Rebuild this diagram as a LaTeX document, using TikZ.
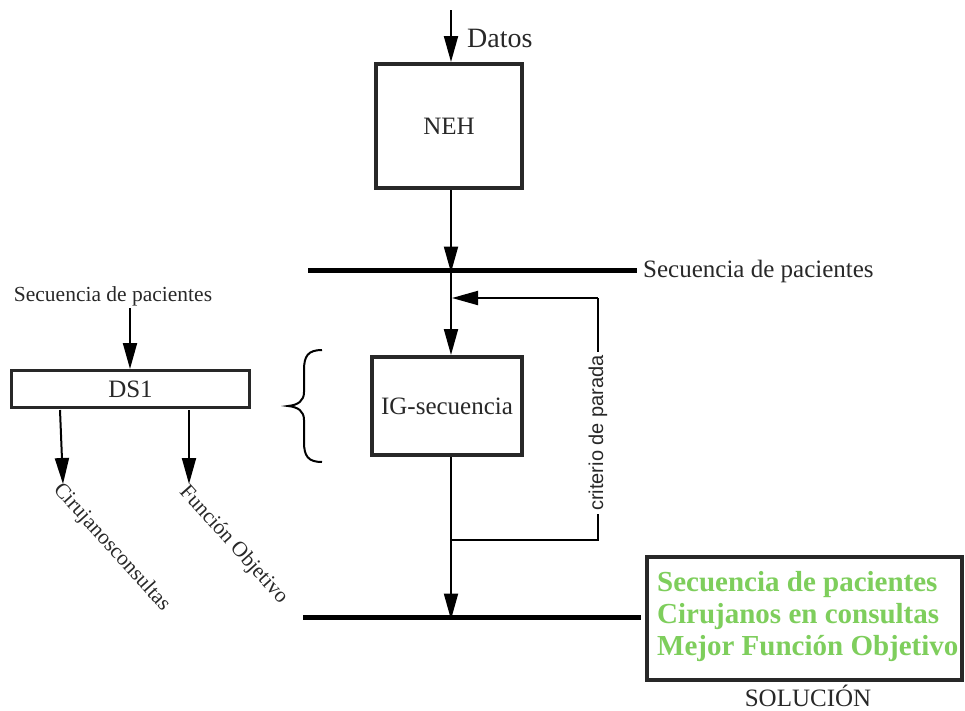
\documentclass[tikz,border=0pt]{standalone}
\usepackage{fontspec}
\setmainfont{Liberation Serif}
\newfontfamily\sansf{Liberation Sans}
\usetikzlibrary{arrows.meta}
\definecolor{ink}{RGB}{40,40,40}
\definecolor{solgreen}{RGB}{126,206,92}
\tikzset{
  box/.style={draw=ink, line width=4pt, fill=white, inner sep=0pt, font=\fontsize{25}{28}\selectfont, text=ink},
  arr/.style={draw=black, line width=2pt, -{Triangle[length=26pt,width=14pt]}},
  plain/.style={draw=black, line width=2pt},
  bar/.style={draw=black, line width=5pt},
  lbl/.style={text=ink, inner sep=0pt},
  slant/.style={text=ink, inner sep=0pt, rotate=-48, anchor=north west, font=\fontsize{21.5}{23}\selectfont},
  soltxt/.style={text=solgreen, inner sep=0pt, anchor=base west, font=\fontsize{29}{32}\selectfont\bfseries}
}
\begin{document}
\begin{tikzpicture}[x=1pt,y=-1pt]
\useasboundingbox (0,0) rectangle (965,710);

% main column
\coordinate (top) at (451,10);
\coordinate (main) at (451,0);

% NEH block
\node[box, minimum width=146pt, minimum height=124pt] (neh) at (449,126) {NEH};
\node[lbl, anchor=west, font=\fontsize{28}{30}\selectfont] (datos) at (467,38) {Datos};
\draw[arr] (top) -- (top |- neh.north);

% first sequence bar
\coordinate (b1l) at (308,270);
\coordinate (b1r) at (637,270);
\draw[bar] (b1l) -- (b1r);
\node[lbl, anchor=west, font=\fontsize{25}{28}\selectfont] (seq1) at (643,271) {Secuencia de pacientes};
\draw[arr] (neh.south -| main) -- ([yshift=-2.5pt]main |- b1l);

% IG-secuencia block
\node[box, minimum width=150pt, minimum height=98pt] (ig) at (447,406) {IG-secuencia};
\draw[arr] ([yshift=2.5pt]main |- b1l) -- (main |- ig.north);

% second bar
\coordinate (b2l) at (303,617);
\coordinate (b2r) at (641,617);
\draw[bar] (b2l) -- (b2r);
\draw[arr] (main |- ig.south) -- ([yshift=-2.5pt]main |- b2l);

% stopping-criterion loop
\coordinate (loopbot) at (451,540);
\coordinate (loopbr) at (598,540);
\coordinate (looptr) at (598,298);
\coordinate (loopend) at (451,298);
\draw[plain] (loopbot) -- (loopbr) -- (looptr);
\draw[arr] (looptr) -- ([xshift=1pt]loopend);
\node[fill=white, inner sep=3pt, rotate=90, text=ink, font=\sansf\fontsize{20}{22}\selectfont] (crit) at (598,433) {criterio de parada};

% brace grouping DS1 with the IG step
\draw[line width=2pt, draw=black] (322,350) .. controls (308,350) and (304,356) .. (304,370)
  -- (304,392) .. controls (304,401) and (298,405) .. (288,406)
  .. controls (298,407) and (304,411) .. (304,420)
  -- (304,442) .. controls (304,456) and (308,462) .. (322,462);

% DS1 block
\node[box, line width=3pt, minimum width=238pt, minimum height=37pt] (ds1) at (130.5,389) {DS1};
\node[lbl, font=\fontsize{21.5}{24}\selectfont] (seq2) at (113,296) {Secuencia de pacientes};
\coordinate (ds1in) at (130,308);
\draw[arr] (ds1in) -- (ds1in |- ds1.north);
\coordinate (o1a) at (60,410);
\coordinate (o1b) at (63,484);
\coordinate (o2a) at (189,410);
\coordinate (o2b) at (189,484);
\draw[arr] (o1a) -- (o1b);
\draw[arr] (o2a) -- (o2b);
\node[slant] (cir) at (64,480) {Cirujanosconsultas};
\node[slant] (fo) at (190,482) {Función Objetivo};

% solution block
\node[box, minimum width=315pt, minimum height=123pt] (sol) at (804.5,618) {};
\node[soltxt] (s1) at (657,591) {Secuencia de pacientes};
\node[soltxt] (s2) at (657,623) {Cirujanos en consultas};
\node[soltxt] (s3) at (657,655) {Mejor Función Objetivo};
\node[lbl, anchor=base, font=\fontsize{25}{28}\selectfont] (soltitle) at (808,706) {SOLUCIÓN};
\end{tikzpicture}
\end{document}
